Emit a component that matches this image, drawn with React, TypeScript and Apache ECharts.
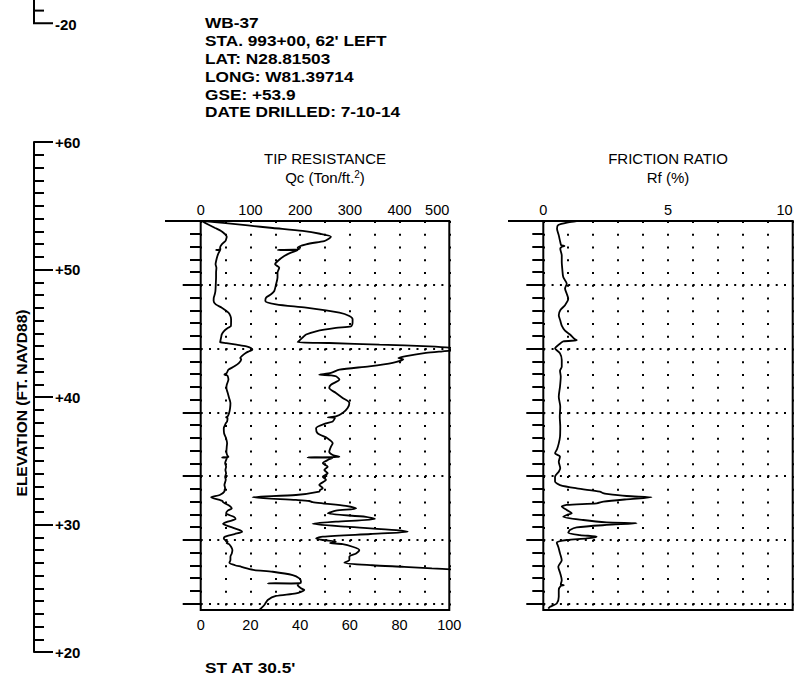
import React, { useEffect, useRef } from "react";
import * as echarts from "echarts";

// Sounding WB-37: cone tip resistance Qc (ton/ft²) against depth below ground (ft)
const qcProfile: [number, number][] = [
  [0, 1.5], [0.15, 9], [0.35, 19], [0.55, 29], [0.78, 41], [1.0, 48], [1.23, 52.4], [1.45, 51],
  [1.57, 49.7], [1.83, 42.4], [2.09, 39], [2.22, 39.7], [2.27, 31], [2.3, 39], [2.48, 36.3],
  [2.75, 33.6], [3.14, 31], [3.4, 29.9], [3.66, 31.6], [4.05, 30.9], [4.44, 30.9], [4.97, 30.3],
  [5.49, 29.6], [5.75, 28.3], [6.01, 26.3], [6.27, 26], [6.54, 30.3], [6.8, 42.4], [7.19, 55.8],
  [7.45, 59.8], [7.71, 61.1], [7.87, 61.1], [8.1, 61], [8.26, 60.5], [8.39, 54.4], [8.65, 46.4],
  [8.9, 42.4], [9.12, 41.1], [9.39, 39.7], [9.5, 39], [9.57, 51.7], [9.7, 71.9], [9.83, 92],
  [9.96, 101], [10.1, 104], [10.22, 97.3], [10.35, 90.6], [10.6, 82.6], [10.75, 79.5],
  [10.85, 81.5], [11.13, 77.2], [11.4, 67.8], [11.66, 55.8], [11.92, 52.4], [12.05, 47.7],
  [12.1, 52.5], [12.18, 54.4], [12.44, 55.8], [12.84, 52.4], [13.1, 51.7], [13.49, 54.4],
  [13.88, 57.1], [14.27, 59.8], [14.67, 59.1], [15.06, 57.1], [15.32, 54.4], [15.4, 51.1],
  [15.45, 54], [15.72, 53.1], [15.87, 50.4], [16.26, 46.4], [16.65, 47], [17.05, 51.1],
  [17.44, 53.1], [17.7, 52.4], [18.1, 51.7], [18.35, 53.1], [18.5, 55.8], [18.54, 43],
  [18.58, 53], [18.69, 51.7], [19.0, 49.1], [19.27, 51.1], [19.53, 49.7], [19.79, 51.1],
  [20.05, 49.1], [20.3, 50.4], [20.7, 47.7], [20.96, 49.1], [21.1, 48], [21.22, 47.7],
  [21.49, 38.3], [21.67, 20.9], [21.88, 38.3], [21.96, 43.7], [22.05, 45], [22.15, 49.1],
  [22.35, 58.4], [22.54, 62.5], [22.72, 54.4], [22.93, 51.1], [23.2, 66.5], [23.37, 70.1],
  [23.58, 54.4], [23.75, 45], [23.97, 58.4], [24.24, 78.6], [24.37, 83.3], [24.55, 68.4],
  [24.76, 49.1], [24.9, 46.4], [25.02, 49.1], [25.16, 54.4], [25.25, 52], [25.34, 57.1],
  [25.55, 61.1], [25.8, 63.8], [26.07, 62.5], [26.33, 59.8], [26.59, 59.8], [26.8, 57.8],
  [27.0, 69], [27.12, 81.8], [27.25, 93], [27.38, 108], [27.51, 144.8], [27.77, 185],
  [28.03, 198.4], [28.29, 201.7], [28.4, 200], [28.42, 134.8], [28.45, 198], [28.55, 195],
  [28.81, 201.7], [28.94, 208.4], [29.2, 191.7], [29.41, 151.4], [29.73, 134.8], [30.12, 128],
  [30.38, 121.3], [30.5, 118],
];

// Friction ratio Rf (%) against depth below ground (ft)
const rfProfile: [number, number][] = [
  [0, 1.34], [0.1, 1.0], [0.31, 0.6], [0.6, 0.55], [1.13, 0.62], [1.65, 0.68], [1.9, 0.72],
  [1.96, 0.85], [2.05, 0.72], [2.18, 0.68], [2.7, 0.74], [3.22, 0.74], [3.74, 0.76], [4.4, 0.8],
  [4.92, 0.94], [5.3, 0.87], [5.7, 0.94], [6.1, 1.0], [6.6, 0.87], [7.0, 0.68], [7.4, 0.62],
  [7.8, 0.68], [8.2, 0.74], [8.6, 0.87], [8.9, 1.07], [9.25, 1.25], [9.35, 1.34], [9.45, 0.8],
  [9.7, 0.62], [9.99, 0.47], [10.38, 0.67], [10.9, 0.74], [11.43, 0.74], [11.74, 0.67],
  [12.2, 0.7], [12.99, 0.67], [13.78, 0.62], [14.56, 0.68], [15.35, 0.66], [16.13, 0.68],
  [16.92, 0.67], [17.44, 0.62], [17.9, 0.55], [18.22, 0.47], [18.48, 0.67], [18.88, 0.62],
  [19.4, 0.68], [19.66, 0.62], [20.05, 0.47], [20.44, 0.47], [20.71, 0.67], [20.97, 1.34],
  [21.23, 2.27], [21.35, 2.4], [21.41, 2.54], [21.57, 3.34], [21.67, 4.34], [21.83, 3.34],
  [22.01, 2.41], [22.14, 2.14], [22.27, 0.94], [22.4, 0.74], [22.67, 0.94], [22.93, 1.14],
  [23.06, 0.94], [23.19, 0.8], [23.45, 1.6], [23.64, 2.54], [23.71, 3.74], [23.84, 2.54],
  [24.03, 1.34], [24.24, 1.07], [24.45, 1.0], [24.63, 1.47], [24.76, 2.14], [24.9, 1.74],
  [25.02, 0.94], [25.23, 0.54], [25.55, 0.6], [26.07, 0.67], [26.6, 0.74], [27.12, 0.6],
  [27.64, 0.68], [28.17, 0.74], [28.5, 0.7], [28.56, 0.82], [28.62, 0.7], [28.95, 0.62],
  [29.48, 0.62], [30.0, 0.54], [30.26, 0.27], [30.4, 0.2],
];

const headerLines = [
  "WB-37",
  "STA. 993+00, 62' LEFT",
  "LAT: N28.81503",
  "LONG: W81.39714",
  "GSE: +53.9",
  "DATE DRILLED: 7-10-14",
];
const footNote = "ST AT 30.5'";
const elevationRange = [20, 60];
const soundingDepth = 30.5;
const majorDepthTicks = [5, 10, 15, 20, 25, 30];
const minorDepthTicks = [1, 2, 3, 4, 6, 7, 8, 9, 11, 12, 13, 14, 16, 17, 18, 19, 21, 22, 23, 24, 26, 27, 28, 29];
const qcCoarseScale = [0, 500, 50];
const qcFineScale = [0, 100, 20];
const rfScale = [0, 10, 1];

const FONT = "'Liberation Sans', Arial, Helvetica, sans-serif";
const INK = "#000";
const FT = 12.75; // pixels per foot of depth/elevation
const PLOT_TOP = 221;
const PLOT_H = soundingDepth * FT;
const WIDE = 1.12; // horizontal stretch for the bold note lettering

const hDots = { color: INK, width: 2, type: [2, 6.3] as number[], cap: "butt" as const };
const vDots = { color: INK, width: 2, type: [2, 10.75] as number[], cap: "butt" as const };

function depthAxes(gridIndex: number, majorLen: number, minorLen: number, topLen: number) {
  const base = {
    type: "value" as const,
    gridIndex,
    position: "left" as const,
    inverse: true,
    min: 0,
    max: soundingDepth,
    axisLine: { show: false },
    axisLabel: { show: false },
  };
  return [
    {
      ...base,
      interval: 5,
      splitLine: { show: true, lineStyle: hDots },
      axisTick: { show: true, customValues: majorDepthTicks, length: majorLen, lineStyle: { color: INK, width: 2 } },
    },
    {
      ...base,
      interval: 5,
      splitLine: { show: false },
      axisTick: { show: true, customValues: minorDepthTicks, length: minorLen, lineStyle: { color: INK, width: 2 } },
    },
    {
      ...base,
      interval: 5,
      splitLine: { show: false },
      axisTick: { show: true, customValues: [0], length: topLen, lineStyle: { color: INK, width: 2 } },
    },
  ];
}

function textEl(text: string, x: number, y: number, size: number, bold: boolean, align = "left", extra: any = {}) {
  return {
    type: "text",
    x,
    y,
    silent: true,
    ...extra,
    style: {
      text,
      fontFamily: FONT,
      fontSize: size,
      fontWeight: bold ? "bold" : "normal",
      lineHeight: size,
      fill: INK,
      align,
      verticalAlign: "middle",
      ...(extra.style || {}),
    },
  };
}

export default function App() {
  const ref = useRef<HTMLDivElement>(null);

  useEffect(() => {
    if (!ref.current) return;
    const chart = echarts.init(ref.current, undefined, { renderer: "svg" });

    const tipLeft = 200.7;
    const tipW = 248.6;
    const rfLeft = 543.3;
    const rfW = 249.4;
    const curve = { color: INK, width: 1.8 };

    const option: any = {
      animation: false,
      backgroundColor: "#fff",
      textStyle: { fontFamily: FONT, color: INK },
      grid: [
        { left: 34, top: 142, width: 10, height: (elevationRange[1] - elevationRange[0]) * FT, show: false },
        { left: tipLeft, top: PLOT_TOP, width: tipW, height: PLOT_H, show: true, borderColor: INK, borderWidth: 2, backgroundColor: "transparent" },
        { left: rfLeft, top: PLOT_TOP, width: rfW, height: PLOT_H, show: true, borderColor: INK, borderWidth: 2, backgroundColor: "transparent" },
      ],
      xAxis: [
        { type: "value", gridIndex: 0, show: false, min: 0, max: 1 },
        {
          type: "value", gridIndex: 1, position: "top",
          min: qcCoarseScale[0], max: qcCoarseScale[1], interval: qcCoarseScale[2],
          axisLine: { show: false }, axisTick: { show: false },
          axisLabel: {
            margin: 4, fontSize: 14.5, color: INK, fontFamily: FONT, alignMaxLabel: "right",
            formatter: (v: number) => (v % 100 === 0 ? String(v) : ""),
          },
          splitLine: { show: true, lineStyle: vDots },
        },
        {
          type: "value", gridIndex: 1, position: "bottom",
          min: qcFineScale[0], max: qcFineScale[1], interval: qcFineScale[2],
          axisLine: { show: false }, axisTick: { show: false },
          axisLabel: { margin: 8, fontSize: 14.5, color: INK, fontFamily: FONT },
          splitLine: { show: false },
        },
        {
          type: "value", gridIndex: 2, position: "top",
          min: rfScale[0], max: rfScale[1], interval: rfScale[2],
          axisLine: { show: false }, axisTick: { show: false },
          axisLabel: {
            margin: 4, fontSize: 14.5, color: INK, fontFamily: FONT, alignMaxLabel: "right",
            formatter: (v: number) => (v % 5 === 0 ? String(v) : ""),
          },
          splitLine: { show: true, lineStyle: vDots },
        },
      ],
      yAxis: [
        {
          type: "value", gridIndex: 0, position: "left",
          min: elevationRange[0], max: elevationRange[1], interval: 10,
          axisLine: { show: true, lineStyle: { color: INK, width: 2 } },
          axisTick: { show: true, inside: true, length: 19, lineStyle: { color: INK, width: 2 } },
          minorTick: { show: true, splitNumber: 10, length: 10, lineStyle: { color: INK, width: 2 } },
          axisLabel: {
            inside: true, margin: 21, fontSize: 15, fontWeight: "bold", color: INK, fontFamily: FONT,
            formatter: (v: number) => (v > 0 ? "+" + v : String(v)),
          },
          splitLine: { show: false },
        },
        ...depthAxes(1, 18, 10.7, 35.7),
        ...depthAxes(2, 17, 11, 35.3),
      ],
      series: [
        {
          name: "Qc 0-500",
          type: "line",
          xAxisIndex: 1,
          yAxisIndex: 1,
          data: qcProfile.map(([d, q]) => [q, d]),
          showSymbol: false,
          clip: true,
          smooth: 0.25,
          lineStyle: curve,
        },
        {
          name: "Qc 0-100",
          type: "line",
          xAxisIndex: 2,
          yAxisIndex: 1,
          data: qcProfile.map(([d, q]) => [q, d]),
          showSymbol: false,
          clip: true,
          smooth: 0.25,
          lineStyle: curve,
        },
        {
          name: "Rf",
          type: "line",
          xAxisIndex: 3,
          yAxisIndex: 4,
          data: rfProfile.map(([d, r]) => [r, d]),
          showSymbol: false,
          clip: true,
          smooth: 0.25,
          lineStyle: curve,
        },
      ],
      graphic: [
        // fragment of the neighbouring elevation scale
        { type: "polyline", silent: true, shape: { points: [[34, 0], [34, 23.3], [53, 23.3]] }, style: { stroke: INK, lineWidth: 2, fill: null } },
        { type: "line", silent: true, shape: { x1: 34, y1: 10.6, x2: 44, y2: 10.6 }, style: { stroke: INK, lineWidth: 2 } },
        textEl("-20", 55, 24, 15, true),
        textEl("ELEVATION (FT. NAVD88)", 21, 403, 15.5, true, "center", { rotation: Math.PI / 2 }),
        ...headerLines.map((line, i) => textEl(line, 205, 22.3 + i * 17.9, 15.4, true, "left", { scaleX: WIDE })),
        textEl("TIP RESISTANCE", tipLeft + tipW / 2, 158, 15, false, "center"),
        textEl("Qc (Ton/ft.{sup|2})", tipLeft + tipW / 2, 177, 15, false, "center", {
          style: { rich: { sup: { fontSize: 10, lineHeight: 10, verticalAlign: "top", fontFamily: FONT, fill: INK } } },
        }),
        textEl("FRICTION RATIO", rfLeft + rfW / 2, 158, 15, false, "center"),
        textEl("Rf (%)", rfLeft + rfW / 2, 177, 15, false, "center"),
        textEl(footNote, 205, 667, 15.4, true, "left", { scaleX: WIDE }),
      ],
    };

    chart.setOption(option);
    return () => chart.dispose();
  }, []);

  return (
    <div
      ref={ref}
      style={{ position: "absolute", left: 0, top: 0, width: 810, height: 676, background: "#fff" }}
    />
  );
}
